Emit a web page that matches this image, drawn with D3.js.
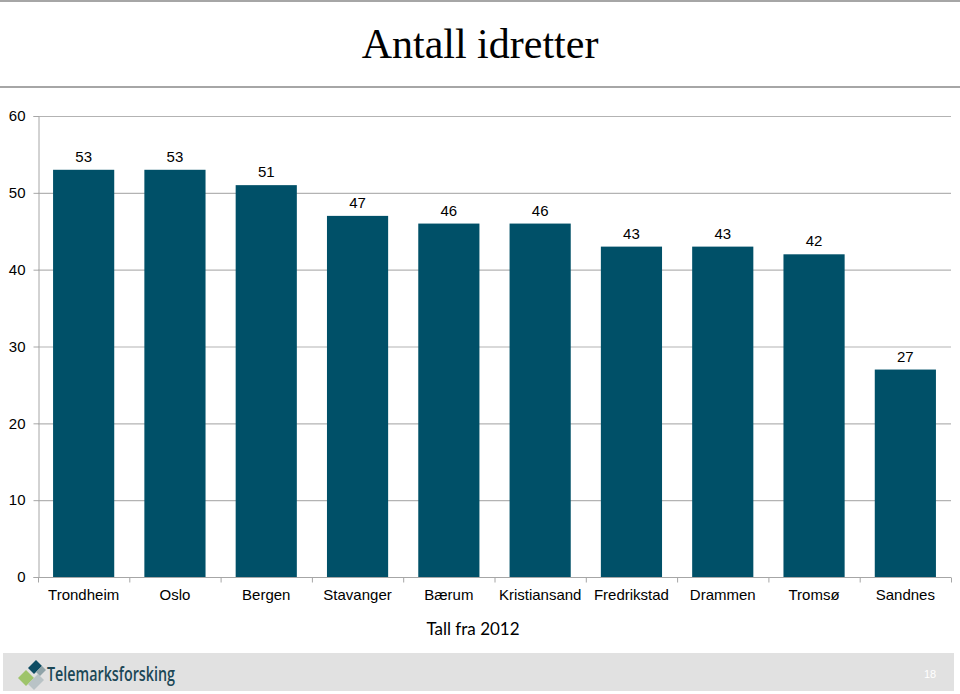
<!DOCTYPE html>
<html><head><meta charset="utf-8">
<script src="https://cdn.jsdelivr.net/npm/d3@7"></script>
<style>body{margin:0;background:#fff}svg{display:block}</style>
</head><body>
<svg id="c" width="960" height="694"></svg>
<script>
const categories = ["Trondheim","Oslo","Bergen","Stavanger","Bærum","Kristiansand","Fredrikstad","Drammen","Tromsø","Sandnes"];
const values = [53,53,51,47,46,46,43,43,42,27];
const yTicks = [0,10,20,30,40,50,60];
const title = "Antall idretter";
const subtitle = "Tall fra 2012";
const brand = "Telemarksforsking";
const pageNo = "18";

const svg = d3.select("#c");
// header lines
svg.append("rect").attr("x",0).attr("y",0).attr("width",960).attr("height",2).attr("fill","#a6a6a6");
svg.append("rect").attr("x",0).attr("y",86).attr("width",960).attr("height",2).attr("fill","#a6a6a6");
svg.append("text").attr("x",480).attr("y",58).attr("text-anchor","middle")
  .attr("font-family","Liberation Serif, serif").attr("font-size",42).attr("fill","#000").text(title);

const m = {left:38, right:951, top:116, bottom:577};
const x = d3.scaleBand().domain(categories).range([m.left,m.right]).paddingInner(0.33).paddingOuter(0.165);
const y = d3.scaleLinear().domain([0,60]).range([m.bottom,m.top]);

// gridlines
svg.append("g").selectAll("line").data(yTicks.filter(d=>d>0)).join("line")
  .attr("x1",m.left).attr("x2",m.right).attr("y1",d=>y(d)+0.5).attr("y2",d=>y(d)+0.5)
  .attr("stroke","#b3b3b3").attr("stroke-width",1.2);

// y axis
const ya = svg.append("g").attr("transform",`translate(${m.left+0.5},0)`)
  .call(d3.axisLeft(y).tickValues(yTicks).tickSize(5).tickPadding(8));
ya.select(".domain").attr("stroke","#a6a6a6");
ya.selectAll(".tick line").attr("stroke","#a6a6a6");
ya.selectAll("text").attr("font-family","Liberation Sans, Arial, sans-serif").attr("font-size",15).attr("fill","#000");

// bars
svg.append("g").selectAll("rect").data(values).join("rect")
  .attr("x",(d,i)=>x(categories[i])).attr("width",x.bandwidth())
  .attr("y",d=>y(d)).attr("height",d=>y(0)-y(d)).attr("fill","#005068");

// value labels
svg.append("g").selectAll("text").data(values).join("text")
  .attr("x",(d,i)=>x(categories[i])+x.bandwidth()/2).attr("y",d=>y(d)-8)
  .attr("text-anchor","middle").attr("font-family","Liberation Sans, Arial, sans-serif")
  .attr("font-size",15).attr("fill","#000").text(d=>d);

// x axis
const step = x.step();
const xa = svg.append("g").attr("transform",`translate(0,${m.bottom+0.5})`);
xa.append("line").attr("x1",m.left).attr("x2",m.right).attr("stroke","#a6a6a6");
xa.selectAll("line.t").data(d3.range(categories.length+1)).join("line").attr("class","t")
  .attr("x1",i=>m.left+i*step+0.5).attr("x2",i=>m.left+i*step+0.5).attr("y1",0).attr("y2",5).attr("stroke","#a6a6a6");
xa.selectAll("text").data(categories).join("text")
  .attr("x",d=>x(d)+x.bandwidth()/2).attr("y",22).attr("text-anchor","middle")
  .attr("font-family","Liberation Sans, Arial, sans-serif").attr("font-size",15).attr("fill","#000").text(d=>d);

svg.append("text").attr("x",473).attr("y",635).attr("text-anchor","middle")
  .attr("font-family","Lato, sans-serif").attr("font-size",17).attr("fill","#000").text(subtitle);

// footer
svg.append("rect").attr("x",3).attr("y",653).attr("width",951).attr("height",38).attr("fill","#e1e1e1");
const logo = svg.append("g").attr("transform","translate(16,658)");
logo.append("polygon").attr("points","12,10 20,2 26,8 18,16").attr("fill","#0d4c63");
logo.append("polygon").attr("points","2,20 10,12 18,20 10,28").attr("fill","#9ec46a");
logo.append("polygon").attr("points","12,26 22,16 28,22 18,32").attr("fill","#b9c3c6");
logo.append("polygon").attr("points","20,14 26,8 30,12 24,18").attr("fill","#8fa3a8");
svg.append("text").attr("x",47).attr("y",681).attr("font-family","Open Sans, sans-serif").attr("font-weight",600)
  .attr("font-size",20).attr("fill","#1b4756").attr("textLength",128).attr("lengthAdjust","spacingAndGlyphs").text(brand);
svg.append("text").attr("x",930).attr("y",678).attr("text-anchor","middle").attr("font-family","Liberation Sans, sans-serif")
  .attr("font-size",11).attr("fill","#fff").text(pageNo);
</script>
</body></html>
